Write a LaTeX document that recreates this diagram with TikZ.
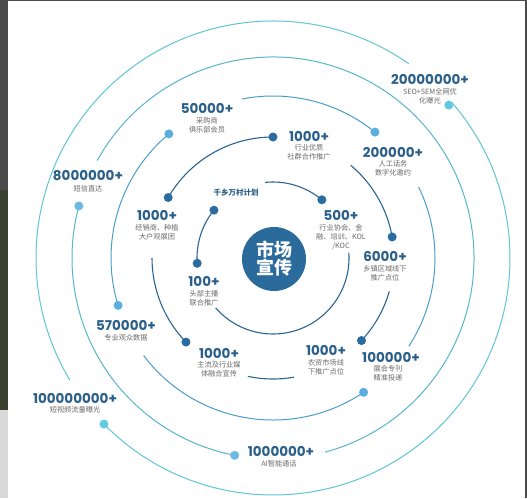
\documentclass[tikz,border=0pt]{standalone}
\usepackage{fontspec}
\setmainfont{Poppins}
\newfontfamily\cjk{Noto Sans CJK SC}
\usetikzlibrary{positioning}
\definecolor{ringA}{HTML}{2B6592}
\definecolor{ringB}{HTML}{4A9FC9}
\definecolor{ringC}{HTML}{57B6CB}
\definecolor{ringD}{HTML}{5EC6D6}
\definecolor{dotA}{HTML}{2A6CA0}
\definecolor{dotB}{HTML}{5AAEE0}
\definecolor{dotC}{HTML}{6CB9E6}
\definecolor{dotD}{HTML}{62C9E2}
\definecolor{hub}{HTML}{2A6B9C}
\definecolor{numblue}{HTML}{2A5F8A}
\definecolor{subgray}{HTML}{6A6A6A}
\definecolor{frame}{HTML}{4B4B4B}
\definecolor{backdrop}{HTML}{3B4232}

\begin{document}
\begin{tikzpicture}[x=1pt,y=-1pt,
  num/.style={font=\bfseries\fontsize{13.5}{14}\selectfont,text=numblue,inner sep=0pt},
  sub/.style={font=\cjk\fontsize{7.2}{9}\selectfont,text=subgray,align=center,inner sep=0pt,below=3.5pt of #1},
  spot/.style={circle,fill=#1,minimum size=9pt,inner sep=0pt},
  arcline/.style={draw=#1,line width=1.1pt}]
\useasboundingbox (0,0) rectangle (527,498);
% screenshot frame
\fill[white] (0,0) rectangle (527,498);
\fill[frame] (0,0) rectangle (8,190);
\fill[backdrop] (0,190) rectangle (8,410);
\fill[black!15] (0,410) rectangle (8,498);
\fill[frame] (0,0) rectangle (527,1);
\fill[frame] (524.5,0) rectangle (527,498);
\coordinate (C) at (273,258);
% the five rings, broken where labels sit
\foreach \a/\b in {96/50,4/-139,184/141}{
  \draw[arcline=ringA] ([shift={(\a:76pt)}]C) arc[start angle=\a,end angle=\b,radius=76pt];
}
\foreach \a/\b in {150/90,50/10,-16/-43,-80/-102,224/180}{
  \draw[arcline=ringA] ([shift={(\a:121pt)}]C) arc[start angle=\a,end angle=\b,radius=121pt];
}
\foreach \a/\b in {101/51,26/-33,-56/-143,197/130}{
  \draw[arcline=ringB,line width=1pt] ([shift={(\a:162pt)}]C) arc[start angle=\a,end angle=\b,radius=162pt];
}
\foreach \a/\b in {151/-75,259/165}{
  \draw[arcline=ringC,line width=1pt] ([shift={(\a:201pt)}]C) arc[start angle=\a,end angle=\b,radius=201pt];
}
\foreach \a/\b in {55/211,224.5/401}{
  \draw[arcline=ringD,line width=1pt] ([shift={(\a:237pt)}]C) arc[start angle=\a,end angle=\b,radius=237pt];
}
% dots on the rings
\foreach \n/\a in {p500/50,p100/184,plan/141}{
  \node[spot=dotA] (\n) at ([shift={(\a:76pt)}]C) {};
}
\foreach \n/\a in {pcom/90,pdeal/150,ptown/10,pfarm/-43,pmedia/224}{
  \node[spot=dotA] (\n) at ([shift={(\a:121pt)}]C) {};
}
\foreach \n/\a in {pcall/51,pexpo/-56,pvis/197,pclub/130}{
  \node[spot=dotB] (\n) at ([shift={(\a:162pt)}]C) {};
}
\foreach \n/\a in {pai/259,psms/165}{
  \node[spot=dotC] (\n) at ([shift={(\a:201pt)}]C) {};
}
\node[spot=dotD] (pvideo) at ([shift={(224.5:237pt)}]C) {};
\node[spot=dotD] (pseo) at ([shift={(41:233pt)}]C) {};
% hub
\node[circle,fill=hub,minimum size=64pt,inner sep=0pt,text=white,align=center,
  font=\cjk\bfseries\fontsize{18}{18}\selectfont] (hub) at (274,259) {市场\\宣传};
% labels
\node[num] (n20m) at (430,79) {20000000+};
\node[sub=n20m] {SEO+SEM全网优\\化曝光};
\node[num] (n50k) at (207,108) {50000+};
\node[sub=n50k] {采购商\\俱乐部会员};
\node[num] (n1ka) at (309,136) {1000+};
\node[sub=n1ka] {行业优质\\社群合作推广};
\node[num] (n200k) at (393,152) {200000+};
\node[sub=n200k] {人工话务\\数字化邀约};
\node[num] (n8m) at (88,176) {8000000+};
\node[sub=n8m] {短信直达};
\node[font=\cjk\bfseries\fontsize{7.5}{9}\selectfont,text=numblue,inner sep=0pt] (nplan) at (236,193) {千乡万村计划};
\node[num] (n1kb) at (157,215) {1000+};
\node[sub=n1kb] {经销商、种植\\大户观展团};
\node[num] (n500) at (341,215) {500+};
\node[sub=n500] {行业协会、金\\融、培训、KOL\\/KOC};
\node[num] (n6k) at (385,256) {6000+};
\node[sub=n6k] {乡镇区域线下\\推广点位};
\node[num] (n100) at (204,281) {100+};
\node[sub=n100] {头部主播\\联合推广};
\node[num] (n570k) at (126,325) {570000+};
\node[sub=n570k] {专业观众数据};
\node[num] (n1kc) at (219,353) {1000+};
\node[sub=n1kc] {主流及行业媒\\体融合宣传};
\node[num] (n1kd) at (326,350) {1000+};
\node[sub=n1kd] {农资市场线\\下推广点位};
\node[num] (n100k) at (391,357) {100000+};
\node[sub=n100k,xshift=-3pt] {展会专刊\\精准投递};
\node[num] (n100m) at (75,398) {100000000+};
\node[sub=n100m] {短视频流量曝光};
\node[num] (n1m) at (281,451) {1000000+};
\node[sub=n1m,xshift=-2pt] {AI智能通话};
\end{tikzpicture}
\end{document}
